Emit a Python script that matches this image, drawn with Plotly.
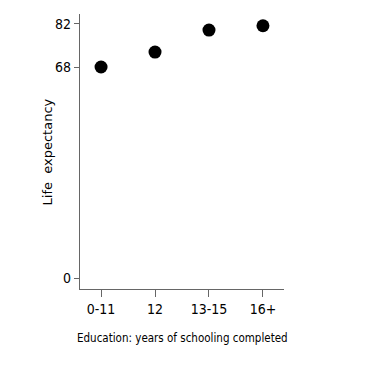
import plotly.graph_objects as go

categories = ["0-11", "12", "13-15", "16+"]
life_expectancy = [68.1, 72.9, 80.0, 81.4]
y_tick_vals = [0, 68, 82]
y_tick_text = ["0", "68", "82"]
x_title = "Education: years of schooling completed"
y_title = "Life  expectancy"

fig = go.Figure(go.Scatter(
    x=list(range(len(categories))), y=life_expectancy, mode="markers",
    marker=dict(color="black", size=13, line=dict(width=0)),
    showlegend=False,
))

narrow = "DejaVu Sans Condensed, Liberation Sans Narrow, sans-serif"
fig.update_layout(
    width=365, height=365,
    margin=dict(l=72, r=89, t=6, b=84),
    paper_bgcolor="white", plot_bgcolor="white",
    xaxis=dict(
        range=[-0.39, 3.39], tickvals=list(range(len(categories))), ticktext=categories,
        showgrid=False, zeroline=False, showline=True, linecolor="#666", linewidth=1.2,
        ticks="outside", ticklen=7, tickcolor="#666", automargin=False,
        tickfont=dict(family=narrow, size=14, color="black"),
    ),
    yaxis=dict(
        range=[-3.55, 85.2], tickvals=y_tick_vals, ticktext=y_tick_text,
        showgrid=False, zeroline=False, showline=True, linecolor="#666", linewidth=1.2,
        ticks="outside", ticklen=5, tickcolor="#666", automargin=False,
        tickfont=dict(family=narrow, size=14, color="black"),
    ),
    annotations=[
        dict(text=x_title, xref="paper", yref="paper", x=0.5, y=-0.178,
             xanchor="center", yanchor="middle", showarrow=False,
             font=dict(family=narrow, size=11.5, color="black")),
        dict(text=y_title, xref="paper", yref="paper", x=-0.157, y=0.5,
             xanchor="center", yanchor="middle", showarrow=False, textangle=-90,
             font=dict(family="DejaVu Sans, sans-serif", size=13, color="black")),
    ],
)
fig.write_html("out.html")
